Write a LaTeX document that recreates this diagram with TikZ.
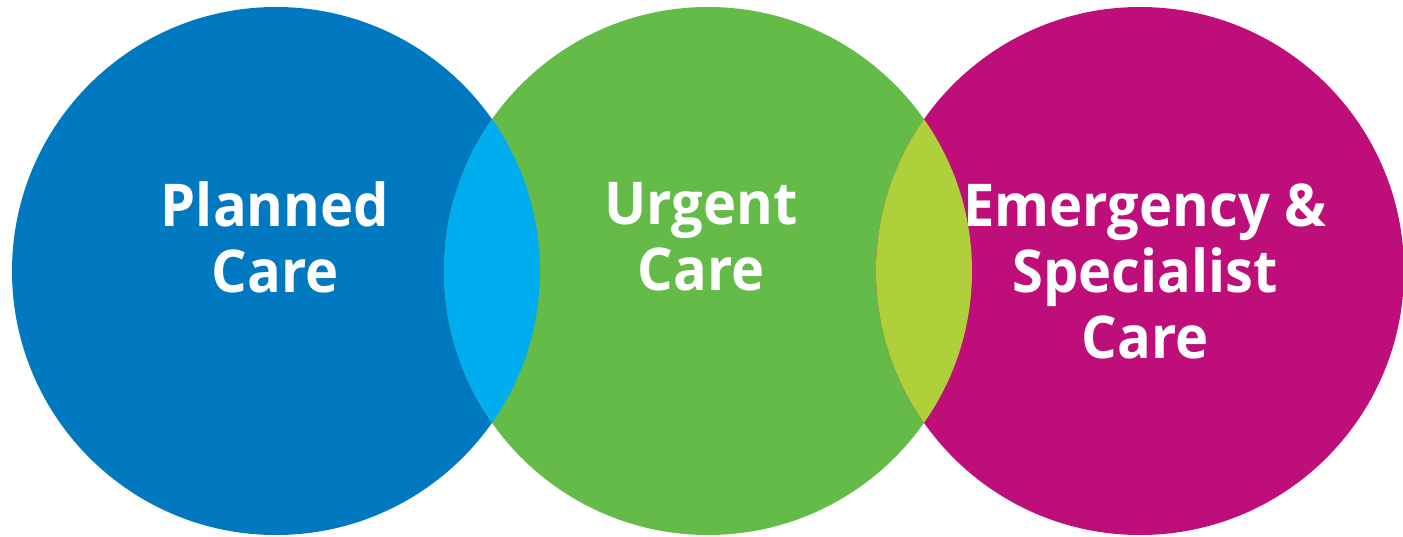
\documentclass[tikz,border=0pt]{standalone}
\usepackage{fontspec}
\setmainfont[FakeStretch=0.95]{Open Sans}
\usepackage{tikz}

\definecolor{plannedblue}{RGB}{0,121,193}
\definecolor{overlapcyan}{RGB}{0,174,239}
\definecolor{urgentgreen}{RGB}{100,187,72}
\definecolor{overlaplime}{RGB}{175,207,59}
\definecolor{emergmagenta}{RGB}{189,14,122}

\begin{document}
\begin{tikzpicture}[x=1pt, y=-1pt,
      every node/.append style={inner sep=0pt},
      area/.style={circle, minimum size=528pt},
      label/.style={text=white, align=center,
        font=\fontsize{59}{66}\selectfont\bfseries}]
    \useasboundingbox (0,0) rectangle (1403,537);
    % the three care circles
    \node [area, fill=plannedblue] (planned) at (276,271) {};
    \node [area, fill=urgentgreen] (urgent) at (708,271) {};
    \node [area, fill=emergmagenta] (emerg) at (1140,271) {};
    % overlaps
    \begin{scope}
      \clip (planned.center) circle (264);
      \fill [overlapcyan] (urgent.center) circle (264);
    \end{scope}
    \begin{scope}
      \clip (urgent.center) circle (264);
      \fill [overlaplime] (emerg.center) circle (264);
    \end{scope}
    % texts
    \node [label] (plannedtext) at (275,237) {Planned\\Care};
    \node [label] (urgenttext) at (701,237) {Urgent\\Care};
    \node [label] (emergtext) at (1145,271) {Emergency \&\\Specialist\\Care};
\end{tikzpicture}
\end{document}
